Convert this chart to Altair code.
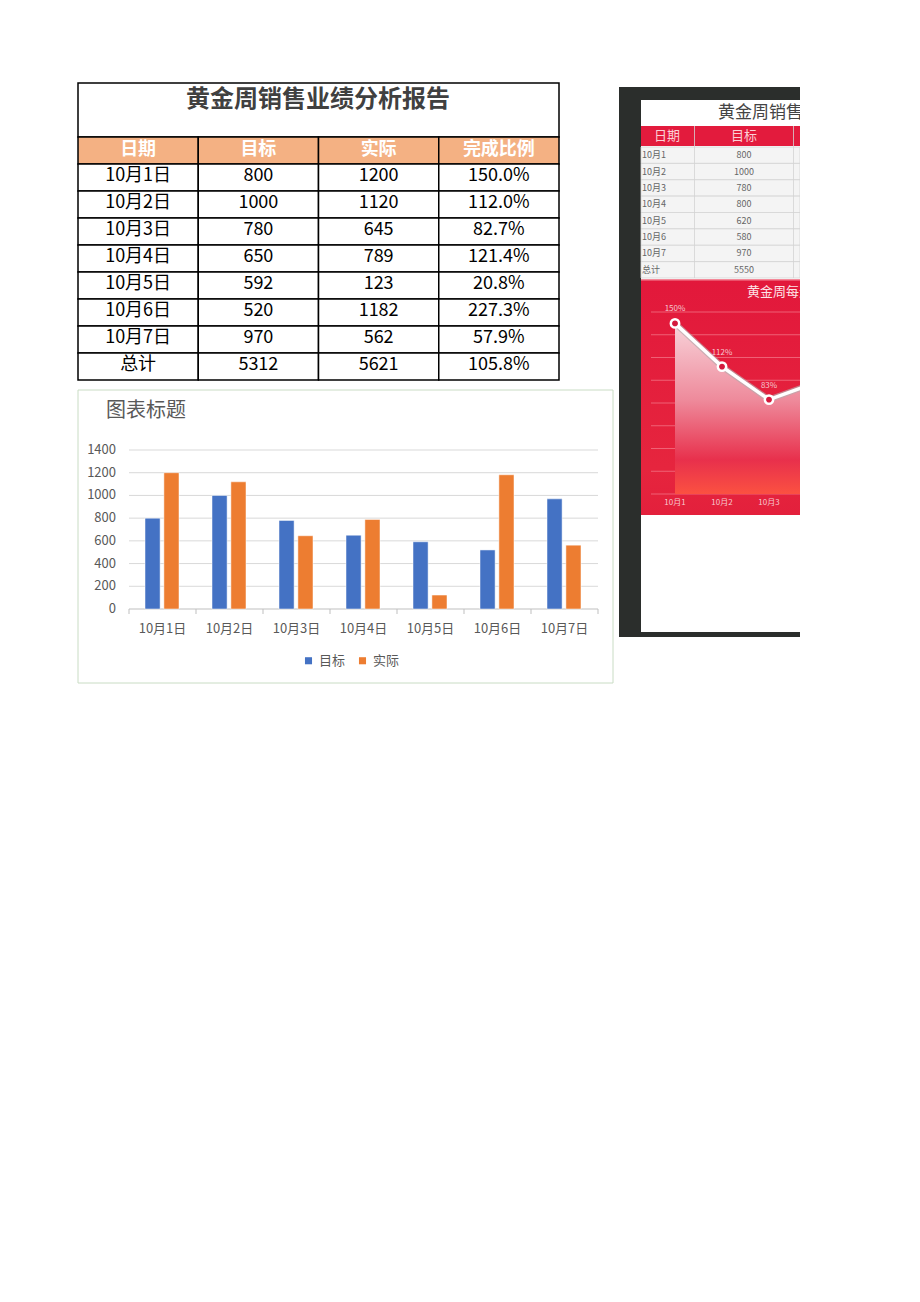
import altair as alt
import pandas as pd

FONT = "Noto Sans CJK SC"

# ---------------- data: left table / bar chart ----------------
table_title = "黄金周销售业绩分析报告"
headers = ["日期", "目标", "实际", "完成比例"]
dates = ["10月1日", "10月2日", "10月3日", "10月4日", "10月5日", "10月6日", "10月7日"]
target = [800, 1000, 780, 650, 592, 520, 970]
actual = [1200, 1120, 645, 789, 123, 1182, 562]
ratio = ["150.0%", "112.0%", "82.7%", "121.4%", "20.8%", "227.3%", "57.9%"]
total_label = "总计"
total_target = 5312
total_actual = 5621
total_ratio = "105.8%"

chart_title = "图表标题"
series = ["目标", "实际"]
series_colors = ["#4472C4", "#ED7D31"]
y_ticks = [0, 200, 400, 600, 800, 1000, 1200, 1400]

# ---------------- data: right (embedded dashboard picture) ----------------
r_title = "黄金周销售业绩分析报告"
r_headers = ["日期", "目标"]
r_dates = ["10月1", "10月2", "10月3", "10月4", "10月5", "10月6", "10月7"]
r_target = [800, 1000, 780, 800, 620, 580, 970]
r_total = 5550
r_chart_title = "黄金周每天完成比例"
r_pct = [150, 112, 83, 98]
r_pct_labels = ["150%", "112%", "83%", "98%"]
r_grid = [0, 20, 40, 60, 80, 100, 120, 140, 160]

one = pd.DataFrame({"k": [0]})


def deco_rect(x, x2, y, y2, **kw):
    return alt.Chart(one).mark_rect(**kw).encode(
        x=alt.value(x), x2=alt.value(x2), y=alt.value(y), y2=alt.value(y2))


def deco_text(x, y, txt, **kw):
    return alt.Chart(one).mark_text(text=txt, font=FONT, **kw).encode(
        x=alt.value(x), y=alt.value(y))


layers = []

# ================= left table =================
rows = ["日期"] + dates + [total_label]
xT = alt.X("col:N", scale=alt.Scale(domain=headers, range=[78, 559], paddingInner=0, paddingOuter=0), axis=None)
yT = alt.Y("row:N", scale=alt.Scale(domain=rows, range=[137, 380], paddingInner=0, paddingOuter=0), axis=None)

header_df = pd.DataFrame({"row": ["日期"] * 4, "col": headers, "txt": headers})
body_records = []
for d, t, a, r in zip(dates, target, actual, ratio):
    for c, v in zip(headers, [d, str(t), str(a), r]):
        body_records.append({"row": d, "col": c, "txt": v})
for c, v in zip(headers, [total_label, str(total_target), str(total_actual), total_ratio]):
    body_records.append({"row": total_label, "col": c, "txt": v})
body_df = pd.DataFrame(body_records)

layers.append(deco_rect(78, 559, 83, 137, fill="white", stroke="black", strokeWidth=1.5))
layers.append(deco_text(318, 100, table_title, fontSize=24, fontWeight="bold", color="#404040",
                        align="center", baseline="middle"))
layers.append(alt.Chart(header_df).mark_rect(fill="#F4B183", stroke="black", strokeWidth=1.5)
              .encode(x=xT, y=yT))
layers.append(alt.Chart(header_df).mark_text(font=FONT, fontSize=18, fontWeight="bold", color="white",
                                             baseline="middle", dy=-1)
              .encode(x=xT, y=yT, text="txt:N"))
layers.append(alt.Chart(body_df).mark_rect(fill="white", stroke="black", strokeWidth=1.5)
              .encode(x=xT, y=yT))
layers.append(alt.Chart(body_df).mark_text(font=FONT, fontSize=18, color="black",
                                           baseline="middle", dy=-2)
              .encode(x=xT, y=yT, text="txt:N"))

# ================= bar chart =================
layers.append(deco_rect(78, 613, 390, 683, fill="white", stroke="#c9dcc4", strokeWidth=1))
layers.append(deco_text(106, 411, chart_title, fontSize=20, color="#595959", align="left", baseline="middle"))

xB = alt.X("date:N", scale=alt.Scale(domain=dates, range=[129, 598], paddingInner=0, paddingOuter=0), axis=None)
yScaleB = alt.Scale(domain=[0, 1400], range=[609, 450], nice=False, zero=True)

grid_df = pd.DataFrame({"v": y_ticks, "lbl": [str(v) for v in y_ticks]})
layers.append(alt.Chart(grid_df[grid_df.v > 0]).mark_rule(color="#d9d9d9", strokeWidth=1)
              .encode(y=alt.Y("v:Q", scale=yScaleB, axis=None), x=alt.value(129), x2=alt.value(598)))
layers.append(alt.Chart(grid_df[grid_df.v == 0]).mark_rule(color="#bfbfbf", strokeWidth=1)
              .encode(y=alt.Y("v:Q", scale=yScaleB, axis=None), x=alt.value(129), x2=alt.value(598)))
edges_df = pd.DataFrame({"e": list(range(len(dates) + 1))})
layers.append(alt.Chart(edges_df).mark_rule(color="#bfbfbf", strokeWidth=1)
              .encode(x=alt.X("e:Q", scale=alt.Scale(domain=[0, len(dates)], range=[129, 598], nice=False, zero=False), axis=None),
                      y=alt.value(609), y2=alt.value(614)))
layers.append(alt.Chart(grid_df).mark_text(font=FONT, fontSize=13, color="#595959", align="right", baseline="middle")
              .encode(y=alt.Y("v:Q", scale=yScaleB, axis=None), x=alt.value(116), text="lbl:N"))

bar_df = pd.DataFrame({
    "date": dates * 2,
    "series": [series[0]] * len(dates) + [series[1]] * len(dates),
    "value": target + actual,
})
layers.append(alt.Chart(bar_df).mark_bar(stroke="white", strokeWidth=0.5).encode(
    x=xB,
    xOffset=alt.XOffset("series:N", scale=alt.Scale(domain=series, range=[16, 50], paddingInner=0.2, paddingOuter=0)),
    y=alt.Y("value:Q", scale=yScaleB, axis=None),
    color=alt.Color("series:N", scale=alt.Scale(domain=series, range=series_colors), sort=series,
                    legend=alt.Legend(title=None, orient="none", legendX=302, legendY=654, direction="horizontal",
                                      symbolType="square", symbolSize=50, symbolStrokeWidth=0,
                                      labelFont=FONT, labelFontSize=13, labelColor="#595959",
                                      columnPadding=10, labelOffset=4, padding=0)),
))
xlab_df = pd.DataFrame({"date": dates})
layers.append(alt.Chart(xlab_df).mark_text(font=FONT, fontSize=13, color="#595959", baseline="middle")
              .encode(x=xB, y=alt.value(629), text="date:N"))

# ================= right picture =================
layers.append(deco_rect(619, 800, 87, 637, fill="#2b2e2c"))
layers.append(deco_rect(641, 800, 100, 632, fill="white"))
layers.append(deco_text(718, 113, r_title, fontSize=17, color="#444444", align="left", baseline="middle"))

# right table
r_rows = r_dates + [total_label]
yR = alt.Y("row:N", scale=alt.Scale(domain=r_rows, range=[147, 278], paddingInner=0, paddingOuter=0), axis=None)
rt_df = pd.DataFrame({"row": r_rows, "tgt": [str(v) for v in r_target] + [str(r_total)]})
layers.append(deco_rect(641, 800, 126, 146, fill="#e31b3d"))
layers.append(deco_text(667, 136, r_headers[0], fontSize=13, color="#fbd0d6", align="center", baseline="middle"))
layers.append(deco_text(744, 136, r_headers[1], fontSize=13, color="#fbd0d6", align="center", baseline="middle"))
layers.append(alt.Chart(rt_df).mark_rect(fill="#f4f4f4", stroke="#d4d4d4", strokeWidth=0.8)
              .encode(y=yR, x=alt.value(641), x2=alt.value(800)))
layers.append(deco_rect(694, 694.8, 126, 278, fill="#d4d4d4"))
layers.append(deco_rect(793, 793.8, 126, 278, fill="#d4d4d4"))
layers.append(alt.Chart(rt_df).mark_text(font=FONT, fontSize=9, color="#666666", align="left", baseline="middle")
              .encode(y=yR, x=alt.value(642), text="row:N"))
layers.append(alt.Chart(rt_df).mark_text(font=FONT, fontSize=9, color="#666666", align="center", baseline="middle")
              .encode(y=yR, x=alt.value(744), text="tgt:N"))

# red chart
layers.append(deco_rect(641, 800, 279, 515, color=alt.LinearGradient(
    gradient="linear", x1=0, x2=0, y1=0, y2=1,
    stops=[alt.GradientStop(color="#e2183b", offset=0), alt.GradientStop(color="#e6253e", offset=0.8),
           alt.GradientStop(color="#e3203c", offset=1)])))
layers.append(deco_rect(641, 800, 279, 280.5, fill="#f48a9a"))

xR = alt.X("d:N", scale=alt.Scale(type="point", domain=r_dates, range=[675, 957], padding=0), axis=None)
yScaleR = alt.Scale(domain=[0, 160], range=[494, 312], nice=False, zero=True)

rg_df = pd.DataFrame({"v": r_grid})
layers.append(alt.Chart(rg_df).mark_rule(color="#f47b8c", strokeWidth=0.8, opacity=0.9)
              .encode(y=alt.Y("v:Q", scale=yScaleR, axis=None), x=alt.value(651), x2=alt.value(800)))

rp_df = pd.DataFrame({"d": r_dates[:len(r_pct)], "p": r_pct, "lbl": r_pct_labels})
layers.append(alt.Chart(rp_df).mark_area(
    color=alt.LinearGradient(gradient="linear", x1=0, x2=0, y1=0, y2=1,
                             stops=[alt.GradientStop(color="#f8d3da", offset=0),
                                    alt.GradientStop(color="#ee8a9b", offset=0.45),
                                    alt.GradientStop(color="#e8304c", offset=0.8),
                                    alt.GradientStop(color="#fb5141", offset=1)]))
              .encode(x=xR, y=alt.Y("p:Q", scale=yScaleR, axis=None)))
layers.append(alt.Chart(rp_df).mark_line(color="#b9a9ad", strokeWidth=6, opacity=0.7)
              .encode(x=xR, y=alt.Y("p:Q", scale=yScaleR, axis=None)))
layers.append(alt.Chart(rp_df).mark_line(color="white", strokeWidth=3.5)
              .encode(x=xR, y=alt.Y("p:Q", scale=yScaleR, axis=None)))
layers.append(alt.Chart(rp_df).mark_point(filled=True, fill="#d41a3d", stroke="white", strokeWidth=2.5, size=70, opacity=1)
              .encode(x=xR, y=alt.Y("p:Q", scale=yScaleR, axis=None)))
layers.append(alt.Chart(rp_df).mark_text(font=FONT, fontSize=8, color="#f6c6cf", dy=-14, baseline="middle")
              .encode(x=xR, y=alt.Y("p:Q", scale=yScaleR, axis=None), text="lbl:N"))

# x labels only for the part of the picture that is visible (the rest is cropped)
rx_df = pd.DataFrame({"d": r_dates[:len(r_pct)]})
layers.append(alt.Chart(rx_df).mark_text(font=FONT, fontSize=8, color="#f8c8cf", baseline="middle")
              .encode(x=xR, y=alt.value(503), text="d:N"))
layers.append(deco_text(747, 292, r_chart_title, fontSize=13, color="#fde3e7", align="left", baseline="middle"))

# crop the picture at its right edge
layers.append(deco_rect(800, 920, 80, 645, fill="white"))

chart = alt.layer(*layers).resolve_scale(
    x="independent", y="independent", color="independent", xOffset="independent"
).properties(
    width=920, height=1302, padding=0,
    autosize=alt.AutoSizeParams(type="none"),
    background="white",
).configure_view(stroke=None)

chart.save("out.html", embed_options={"renderer": "svg", "actions": False})
